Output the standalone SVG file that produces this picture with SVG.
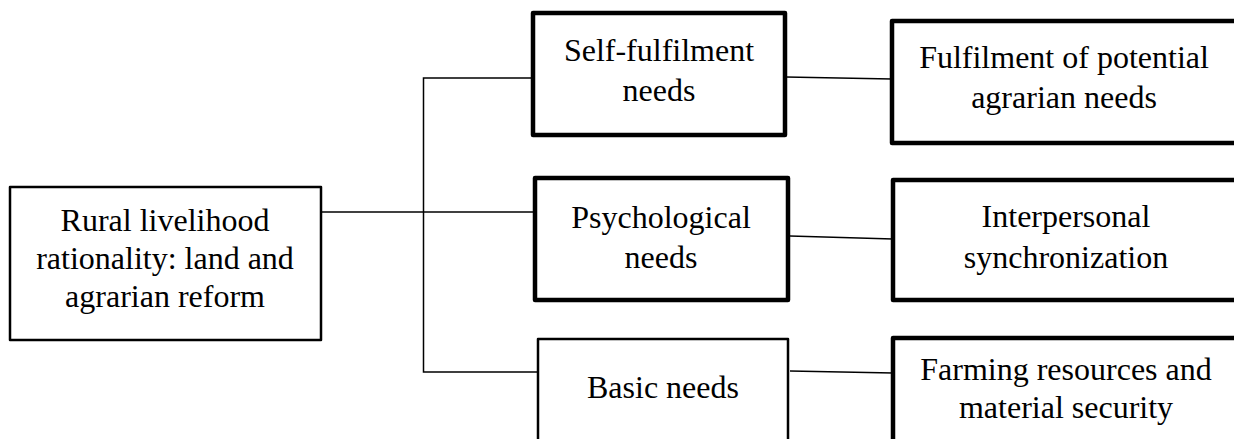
<svg xmlns="http://www.w3.org/2000/svg" width="1234" height="439" viewBox="0 0 1234 439">
<style>
.box{fill:#fff;stroke:#000;stroke-linejoin:round}
.thick{stroke-width:4.5}
.thin{stroke-width:2.5}
.t{font-family:'Liberation Serif','Times New Roman','DejaVu Serif',serif;font-size:32px;fill:#000;text-anchor:middle}
.c{fill:none;stroke:#000;stroke-width:1.5}
</style>
<rect width="1234" height="439" fill="#fff"/>
<g id="connectors">
<line class="c" x1="321" y1="212" x2="535" y2="212"/>
<polyline class="c" points="533,78 423.5,78 423.5,372 538,372"/>
<line class="c" x1="786" y1="77" x2="892" y2="79"/>
<line class="c" x1="790" y1="236" x2="893" y2="239"/>
<line class="c" x1="790" y1="371" x2="893" y2="373"/>
</g>
<g id="root">
<rect class="box thin" x="10" y="187" width="311" height="153"/>
<text class="t" x="165" y="231" font-family="Liberation Serif, serif">Rural livelihood</text>
<text class="t" x="165" y="269" font-family="Liberation Serif, serif">rationality: land and</text>
<text class="t" x="165" y="307" font-family="Liberation Serif, serif">agrarian reform</text>
</g>
<g id="self">
<rect class="box thick" x="533" y="13" width="252" height="122"/>
<text class="t" x="659" y="61">Self-fulfilment</text>
<text class="t" x="659" y="101">needs</text>
</g>
<g id="psych">
<rect class="box thick" x="535" y="178" width="253" height="122"/>
<text class="t" x="661" y="228">Psychological</text>
<text class="t" x="661" y="268">needs</text>
</g>
<g id="basic">
<rect class="box thin" x="538" y="339" width="250" height="110"/>
<text class="t" x="663" y="398">Basic needs</text>
</g>
<g id="fulfilment">
<rect class="box thick" x="892" y="21" width="360" height="122"/>
<text class="t" x="1064" y="68">Fulfilment of potential</text>
<text class="t" x="1064" y="108">agrarian needs</text>
</g>
<g id="interpersonal">
<rect class="box thick" x="893" y="180" width="360" height="120"/>
<text class="t" x="1066" y="227">Interpersonal</text>
<text class="t" x="1066" y="268">synchronization</text>
</g>
<g id="farming">
<rect class="box thick" x="893" y="338" width="360" height="120"/>
<text class="t" x="1066" y="380">Farming resources and</text>
<text class="t" x="1066" y="418">material security</text>
</g>
</svg>
